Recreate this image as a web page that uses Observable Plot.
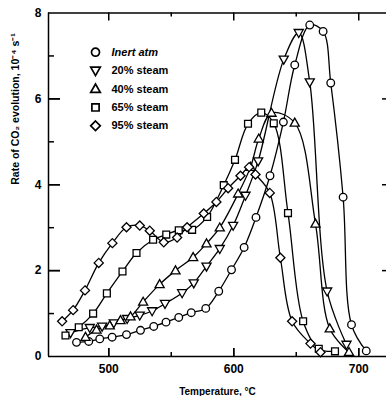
<!DOCTYPE html>
<html>
<head>
<meta charset="utf-8">
<script src="https://cdn.jsdelivr.net/npm/d3@7"></script>
<script src="https://cdn.jsdelivr.net/npm/@observablehq/plot@0.6"></script>
<style>
  html, body { margin: 0; padding: 0; background: #fff; }
  #chart svg { display: block; }
</style>
</head>
<body>
<div id="chart"></div>
<script>
// ---- data ----
const seriesNames = ["Inert atm", "20% steam", "40% steam", "65% steam", "95% steam"];

const inertT = [474.2, 484, 492.8, 502.7, 514.2, 525.4, 536, 545.8, 556, 566, 577.6, 588, 598.2, 608.3, 617.8, 629, 639.7, 648.8, 660.8, 671.5, 677.6, 687.5, 694.2, 706];
const inertR = [0.33, 0.35, 0.41, 0.45, 0.51, 0.61, 0.70, 0.80, 0.91, 1.02, 1.12, 1.52, 2.02, 2.54, 3.24, 4.21, 5.46, 6.79, 7.72, 7.57, 6.37, 3.71, 0.74, 0.13];

const s20T = [469.4, 484.8, 494.7, 504, 514.7, 524.8, 534.7, 545, 558.7, 568, 578.2, 588.8, 599.5, 609.4, 619.5, 640, 652, 660.8, 674.7, 690.2];
const s20R = [0.55, 0.67, 0.70, 0.78, 0.88, 0.96, 1.06, 1.23, 1.48, 1.71, 2.10, 2.51, 3.05, 3.75, 4.55, 6.92, 7.54, 6.39, 1.52, 0.28];

const s40T = [481.4, 490.2, 500.8, 509.4, 517.4, 527.5, 540.7, 553.4, 567.5, 578.2, 588.8, 603.5, 613.4, 620, 630.2, 648.8, 665.4, 676.8, 692.2];
const s40R = [0.45, 0.62, 0.72, 0.84, 0.93, 1.27, 1.68, 2.0, 2.31, 2.63, 3.0, 3.79, 4.41, 5.07, 5.67, 5.44, 3.09, 0.65, 0.10];

const s65T = [465.4, 476, 487.5, 498.5, 511, 522.2, 535.5, 546, 556, 566.7, 578.7, 592, 601, 611.4, 622, 632, 643.4, 655.5, 668, 681];
const s65R = [0.49, 0.68, 1.0, 1.47, 1.98, 2.41, 2.72, 2.84, 2.94, 2.95, 3.25, 3.99, 4.58, 5.42, 5.68, 5.43, 3.34, 0.82, 0.18, 0.12];

const s95T = [462.7, 471.5, 481, 492, 502.9, 514.2, 524.8, 532.8, 544, 554.7, 562.7, 576, 586.1, 595.5, 605.4, 612.3, 617.4, 628.8, 637.3, 646.7, 661.4, 669.4];
const s95R = [0.82, 1.08, 1.54, 2.18, 2.64, 3.01, 3.05, 2.93, 2.66, 2.77, 3.01, 3.33, 3.60, 3.92, 4.21, 4.41, 4.24, 3.81, 2.30, 0.82, 0.30, 0.10];

const xMajorTicks = [500, 600, 700];
const xMinorTicks = [550, 650];
const yLabelTicks = [0, 2, 4, 6, 8];
const yMajorTicks = [2, 4, 6];
const yMinorTicks = [1, 3, 5, 7];
const xDomain = [451.8, 722.2];
const yDomain = [0, 8];
const xTitle = "Temperature, °C";
const yTitle = "Rate of CO\u2082 evolution, 10\u207B\u2074 s\u207B\u00B9";

// ---- layout ----
const W = 386, H = 396, mL = 48, mR = 0, mT = 12.5, mB = 40;
const frameW = W - mL - mR, frameH = H - mT - mB;

// ---- symbols ----
const rad = s => Math.sqrt(s / Math.PI);
const symCircle = {draw(c, s) { const r = rad(s); c.moveTo(r, 0); c.arc(0, 0, r, 0, 2 * Math.PI); }};
const symDown = {draw(c, s) { const r = rad(s); c.moveTo(-1.2 * r, -0.85 * r); c.lineTo(1.2 * r, -0.85 * r); c.lineTo(0, 1.25 * r); c.closePath(); }};
const symUp = {draw(c, s) { const r = rad(s); c.moveTo(-1.2 * r, 0.85 * r); c.lineTo(1.2 * r, 0.85 * r); c.lineTo(0, -1.25 * r); c.closePath(); }};
const symSquare = {draw(c, s) { const h = rad(s) * 0.9; c.moveTo(-h, -h); c.lineTo(h, -h); c.lineTo(h, h); c.lineTo(-h, h); c.closePath(); }};
const symDiamond = {draw(c, s) { const d = rad(s) * 1.2; c.moveTo(0, -d); c.lineTo(d, 0); c.lineTo(0, d); c.lineTo(-d, 0); c.closePath(); }};

const series = [
  {name: seriesNames[0], T: inertT, R: inertR, symbol: symCircle},
  {name: seriesNames[1], T: s20T, R: s20R, symbol: symDown},
  {name: seriesNames[2], T: s40T, R: s40R, symbol: symUp},
  {name: seriesNames[3], T: s65T, R: s65R, symbol: symSquare},
  {name: seriesNames[4], T: s95T, R: s95R, symbol: symDiamond}
].map(s => ({...s, data: s.T.map((t, i) => ({t, r: s.R[i]}))}));

const dotR = 3.8;
const blank = () => "";
const tickStyle = {stroke: "black", strokeWidth: 1.5};
const tk = {tickFormat: blank, label: null, ...tickStyle};

const marks = [];
// frame (left, bottom, top)
marks.push(Plot.ruleX([xDomain[0]], {stroke: "black", strokeWidth: 1.5}));
marks.push(Plot.ruleY([yDomain[0]], {stroke: "black", strokeWidth: 1.5}));
marks.push(Plot.ruleY([yDomain[1]], {stroke: "black", strokeWidth: 1.5}));

// tick labels
marks.push(Plot.axisX({ticks: xMajorTicks, tickSize: 0, tickPadding: 8, label: null, fontSize: 12, fontWeight: "bold"}));
marks.push(Plot.axisY({ticks: yLabelTicks, tickSize: 0, tickPadding: 7, label: null, fontSize: 12, fontWeight: "bold"}));

// inward ticks
marks.push(Plot.axisX({ticks: xMajorTicks, tickSize: -8, ...tk}));
marks.push(Plot.axisY({ticks: yMajorTicks, tickSize: -12, ...tk}));
marks.push(Plot.tickX(xMajorTicks, {x: d => d, insetTop: frameH - 8, ...tickStyle}));      // bottom major
marks.push(Plot.tickX(xMinorTicks, {x: d => d, insetTop: frameH - 4, ...tickStyle}));      // bottom minor
marks.push(Plot.tickX(xMajorTicks, {x: d => d, insetBottom: frameH - 8, ...tickStyle}));   // top major
marks.push(Plot.tickX(xMinorTicks, {x: d => d, insetBottom: frameH - 4, ...tickStyle}));   // top minor
marks.push(Plot.tickY(yMajorTicks, {y: d => d, insetRight: frameW - 12, ...tickStyle}));   // left major
marks.push(Plot.tickY(yMinorTicks, {y: d => d, insetRight: frameW - 6, ...tickStyle}));    // left minor
marks.push(Plot.tickY(yMajorTicks, {y: d => d, insetLeft: frameW - 4, ...tickStyle}));     // right major

// axis titles
marks.push(Plot.text([xTitle], {frameAnchor: "bottom", dy: 35, fontSize: 10, fontWeight: "bold", lineAnchor: "middle"}));
marks.push(Plot.text([yTitle], {frameAnchor: "left", dx: -33, rotate: -90, fontSize: 10.5, fontWeight: "bold", lineAnchor: "middle"}));

// lines
for (const s of series) {
  marks.push(Plot.line(s.data, {x: "t", y: "r", curve: "catmull-rom", stroke: "black", strokeWidth: 1.3}));
}
// markers
for (const s of series) {
  marks.push(Plot.dot(s.data, {x: "t", y: "r", r: dotR, symbol: s.symbol, stroke: "black", strokeWidth: 1.3, fill: "white"}));
}
// legend
series.forEach((s, i) => {
  marks.push(Plot.dot([s.name], {frameAnchor: "top-left", dx: 47, dy: 39.2 + i * 18.4, r: 4, symbol: s.symbol, stroke: "black", strokeWidth: 1.7, fill: "white"}));
  marks.push(Plot.text([s.name], {frameAnchor: "top-left", dx: 63, dy: 39.2 + i * 18.4, text: d => d, textAnchor: "start", lineAnchor: "middle", fontSize: 11, fontWeight: "bold", fontStyle: i === 0 ? "italic" : "normal"}));
});

const chart = Plot.plot({
  width: W,
  height: H,
  marginLeft: mL,
  marginRight: mR,
  marginTop: mT,
  marginBottom: mB,
  style: {fontFamily: "'Liberation Sans', Arial, sans-serif", color: "black", background: "white"},
  x: {domain: xDomain},
  y: {domain: yDomain},
  marks
});
document.getElementById("chart").appendChild(chart);
</script>
</body>
</html>
